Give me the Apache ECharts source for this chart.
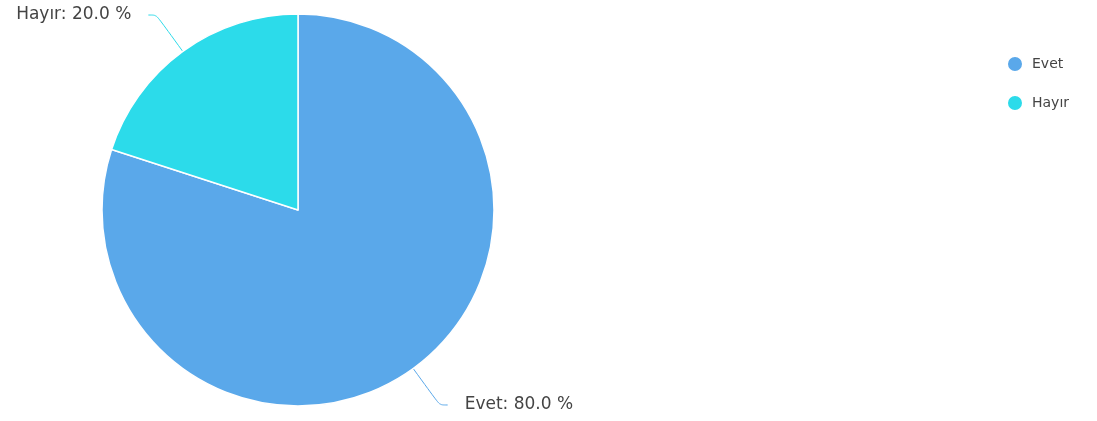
<!DOCTYPE html>
<html>
<head>
<meta charset="utf-8">
<script src="https://cdn.jsdelivr.net/npm/echarts@6/dist/echarts.min.js"></script>
<style>
  html, body { margin: 0; padding: 0; background: #ffffff; }
  #chart { width: 1097px; height: 421px; }
</style>
</head>
<body>
<div id="chart"></div>
<script>
// Survey answers and their shares (percent)
const categories = ['Evet', 'Hayır'];
const values = [80.0, 20.0];
const colors = ['#5aa8ea', '#2cdbea'];

const chart = echarts.init(document.getElementById('chart'), null, { renderer: 'canvas' });

const FONT = 'DejaVu Sans, Verdana, sans-serif';

chart.setOption({
  animation: false,
  backgroundColor: '#ffffff',
  color: colors,
  legend: {
    orient: 'vertical',
    left: 1001,
    top: 50,
    icon: 'circle',
    itemWidth: 24,
    itemHeight: 16,
    itemGap: 21,
    data: categories,
    textStyle: { fontFamily: FONT, fontSize: 14, color: '#444444' }
  },
  series: [{
    type: 'pie',
    center: [298, 210],
    radius: [0, 196],
    startAngle: 90,
    clockwise: true,
    data: categories.map((name, i) => ({ name: name, value: values[i] })),
    itemStyle: { borderColor: '#ffffff', borderWidth: 1.5 },
    label: {
      show: true,
      formatter: (p) => p.name + ': ' + p.value.toFixed(1) + ' %',
      fontFamily: FONT,
      fontSize: 17,
      color: '#444444',
      padding: [14, 0, 0, 0],
      distanceToLabelLine: 17
    },
    labelLine: {
      show: true,
      length: 45,
      length2: 8,
      smooth: 0.3,
      lineStyle: { width: 1 }
    },
    emphasis: { disabled: true }
  }]
});
</script>
</body>
</html>
